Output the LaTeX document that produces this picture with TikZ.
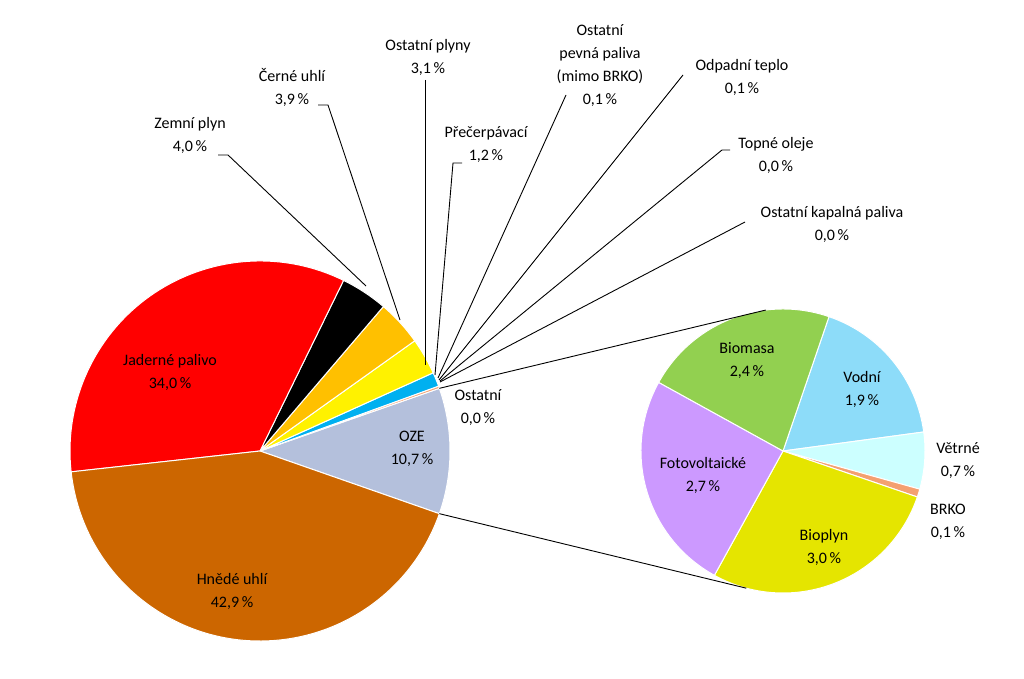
\documentclass[tikz,border=0pt]{standalone}
\usepackage{fontspec}
\setmainfont{Carlito}
\usetikzlibrary{calc}
\definecolor{cOZE}{HTML}{B4C0DC}
\definecolor{cBrown}{HTML}{CC6600}
\definecolor{cOrange}{HTML}{FFC000}
\definecolor{cCyan}{HTML}{00B0F0}
\definecolor{cSalmon}{HTML}{F4A070}
\definecolor{cGreen}{HTML}{92D050}
\definecolor{cVodni}{HTML}{8DDCF9}
\definecolor{cVetr}{HTML}{CCFFFF}
\definecolor{cBio}{HTML}{E5E500}
\definecolor{cFoto}{HTML}{CC99FF}
\tikzset{lbl/.style={font=\fontsize{16}{23}\selectfont,align=center,inner sep=1pt},
 lead/.style={draw=black,line width=0.9pt},
 wedge/.style={draw=white,line width=1pt}}
\newcommand{\slice}[5]{\fill[#5,wedge] (#1) -- ++(#2:#4) arc (#2:#3:#4) -- cycle;}
\begin{document}
\begin{tikzpicture}[x=1pt,y=1pt]
\useasboundingbox (0,0) rectangle (1024,678);
\fill[white] (0,0) rectangle (1024,678);
\coordinate (m) at (260,227);
\coordinate (s) at (783,227);
% main pie
\slice{m}{-19.26}{19.26}{190}{cOZE}
\slice{m}{19.26}{19.98}{190}{cSalmon}
\slice{m}{19.98}{24.3}{190}{cCyan}
\slice{m}{24.3}{35.46}{190}{yellow}
\slice{m}{35.46}{49.5}{190}{cOrange}
\slice{m}{49.5}{63.9}{190}{black}
\slice{m}{63.9}{186.3}{190}{red}
\slice{m}{186.3}{340.74}{190}{cBrown}
% second pie
\slice{s}{71.1}{7.7}{142}{cVodni}
\slice{s}{7.7}{-15.6}{142}{cVetr}
\slice{s}{-15.6}{-18.9}{142}{cSalmon}
\slice{s}{-18.9}{-118.9}{142}{cBio}
\slice{s}{-118.9}{-208.9}{142}{cFoto}
\slice{s}{151.1}{71.1}{142}{cGreen}
% connectors between pies
\coordinate (mt) at ($(m)+(19.26:190)$);
\coordinate (mb) at ($(m)+(-19.26:190)$);
\coordinate (st) at ($(s)+(97:142)$);
\coordinate (sb) at ($(s)+(255:142)$);
\draw[lead] (mt) -- (st);
\draw[lead] (mb) -- (sb);
% inside labels
\node[lbl] (jad) at (170,306) {Jaderné palivo\\34,0\,\%};
\node[lbl] (hne) at (232,87) {Hnědé uhlí\\42,9\,\%};
\node[lbl] (oze) at (412,229) {OZE\\10,7\,\%};
\node[lbl] (bma) at (747,317) {Biomasa\\2,4\,\%};
\node[lbl] (vod) at (862,289) {Vodní\\1,9\,\%};
\node[lbl] (vet) at (958,217) {Větrné\\0,7\,\%};
\node[lbl] (brk) at (948,156) {BRKO\\0,1\,\%};
\node[lbl] (bpl) at (824,131) {Bioplyn\\3,0\,\%};
\node[lbl] (fot) at (703,203) {Fotovoltaické\\2,7\,\%};
\node[lbl] (ost) at (478,270) {Ostatní\\0,0\,\%};
% outer labels
\node[lbl] (zem) at (190,543) {Zemní plyn\\4,0\,\%};
\node[lbl] (cer) at (292,591) {Černé uhlí\\3,9\,\%};
\node[lbl] (opl) at (428,621) {Ostatní plyny\\3,1\,\%};
\node[lbl] (pre) at (486,533) {Přečerpávací\\1,2\,\%};
\node[lbl] (opp) at (600,612) {Ostatní\\pevná paliva\\(mimo BRKO)\\0,1\,\%};
\node[lbl] (odp) at (742,601) {Odpadní teplo\\0,1\,\%};
\node[lbl] (top) at (776,523) {Topné oleje\\0,0\,\%};
\node[lbl] (okp) at (832,454) {Ostatní kapalná paliva\\0,0\,\%};
% leader lines
\coordinate (a1) at (366,392);
\coordinate (a2) at (400,358);
\coordinate (a3) at (425,313);
\coordinate (a4) at (435,303);
\coordinate (a5) at (438,300);
\coordinate (a6) at (439,298);
\coordinate (a7) at (440,297);
\coordinate (a8) at (440,296);
\draw[lead] (218,523) -- (228,523) -- (a1);
\draw[lead] (318,573) -- (328,573) -- (a2);
\draw[lead] (425,598) -- (a3);
\draw[lead] (462,515) -- (453,515) -- (a4);
\draw[lead] (566,583) -- (a5);
\draw[lead] (683,603) -- (a6);
\draw[lead] (730,528) -- (722,528) -- (a7);
\draw[lead] (745,456) -- (a8);
\end{tikzpicture}
\end{document}
